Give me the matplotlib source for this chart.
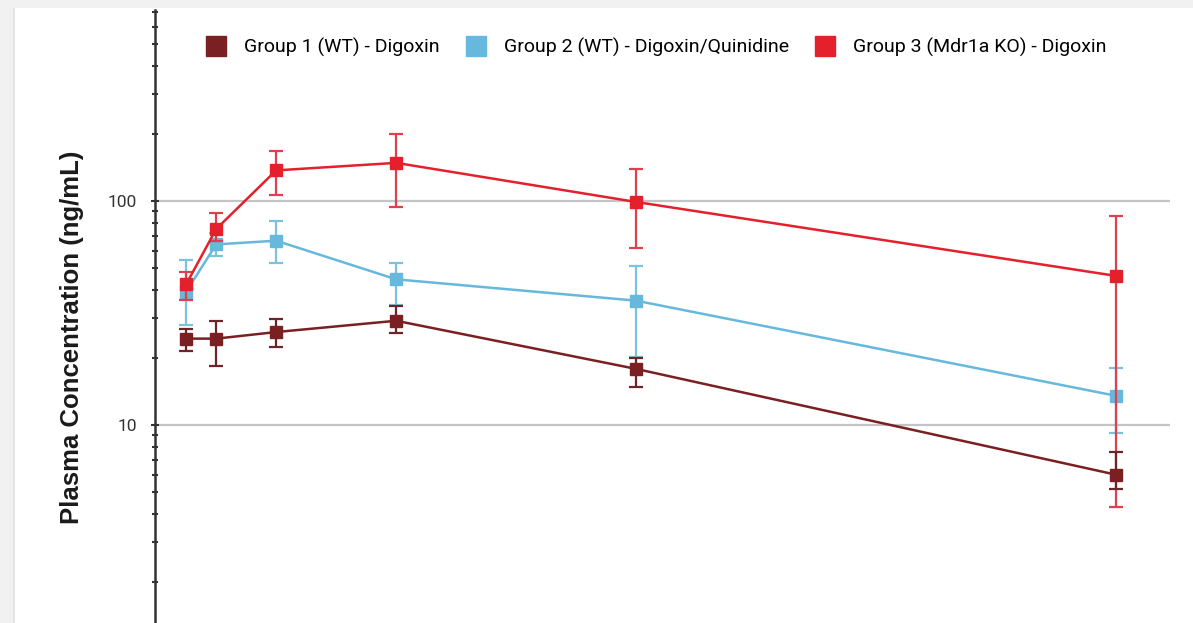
import matplotlib
matplotlib.use("Agg")
import numpy as np
import matplotlib.pyplot as plt
from matplotlib.lines import Line2D
from matplotlib.patches import Rectangle
from matplotlib.ticker import LogLocator, NullFormatter

# sampling times (h)
time = [0.25, 0.5, 1, 2, 4, 8]

# group 1 (WT) - digoxin
g1_mean = [24.3, 24.3, 26.0, 29.2, 17.8, 6.0]
g1_low  = [21.5, 18.3, 22.3, 25.8, 14.8, 5.2]
g1_high = [26.8, 29.2, 29.8, 34.0, 20.0, 7.6]

# group 2 (WT) - digoxin/quinidine
g2_mean = [39.4, 64.0, 66.5, 44.7, 35.9, 13.5]
g2_low  = [27.9, 56.9, 52.8, 34.3, 20.2, 9.2]
g2_high = [54.6, 72.0, 81.5, 53.0, 51.3, 17.9]

# group 3 (Mdr1a KO) - digoxin
g3_mean = [42.5, 75.0, 137.0, 148.0, 99.0, 46.3]
g3_low  = [36.0, 66.0, 106.0, 94.0, 61.8, 4.3]
g3_high = [48.3, 88.6, 167.0, 199.0, 139.0, 86.0]

labels = ['Group 1 (WT) - Digoxin', 'Group 2 (WT) - Digoxin/Quinidine',
          'Group 3 (Mdr1a KO) - Digoxin']
colors = ['#7a1f22', '#66b8dc', '#e3202b']
ecolors = ['#6b2428', '#7cc2df', '#e0404e']

W, H = 1193, 623
fig = plt.figure(figsize=(W / 100, H / 100), dpi=100, facecolor='#f1f1f1')
# white card inside the grey screenshot frame
fig.patches.append(Rectangle((15 / W, 0), 1 - 15 / W, 1 - 8 / H, transform=fig.transFigure,
                             facecolor='white', edgecolor='none', zorder=-2))
fig.patches.append(Rectangle((13 / W, 0), 2 / W, 1 - 8 / H, transform=fig.transFigure,
                             facecolor='#e4e4e4', edgecolor='none', zorder=-2))

ax = fig.add_axes([155 / W, 0.0, (1170 - 155) / W, 1 - 10 / H])
ax.set_facecolor('none')

series = [(g1_mean, g1_low, g1_high), (g2_mean, g2_low, g2_high), (g3_mean, g3_low, g3_high)]
zorders = [5, 3, 4]
for (m, lo, hi), c, ec, z in zip(series, colors, ecolors, zorders):
    m = np.array(m); lo = np.array(lo); hi = np.array(hi)
    ax.errorbar(time, m, yerr=[m - lo, hi - m], color=c, ecolor=ec, lw=1.8, elinewidth=1.6,
                capsize=5, capthick=1.6, marker='s', markersize=8, zorder=z)

ax.set_yscale('log')
ax.set_xlim(-0.01, 8.45)
ax.set_ylim(10 ** (1 - 198 / 224), 10 ** (2 + 191 / 224))

# gridlines at the decades only
for v in [10, 100]:
    ax.axhline(v, color='#c4c4c4', lw=1.6, zorder=1)

ax.set_yticks([10, 100])
ax.set_yticklabels(['10', '100'])
ax.yaxis.set_minor_locator(LogLocator(base=10, subs=np.arange(2, 10)))
ax.yaxis.set_minor_formatter(NullFormatter())
ax.tick_params(axis='y', which='major', direction='inout', length=6, width=1.5, color='#333333',
               pad=10, labelsize=12.5, labelcolor='#333333')
ax.tick_params(axis='y', which='minor', direction='inout', length=4, width=1.5, color='#333333')
for lab in ax.get_yticklabels():
    lab.set_family(['Roboto', 'DejaVu Sans'])
ax.set_xticks([])

for s in ['top', 'right', 'bottom']:
    ax.spines[s].set_visible(False)
ax.spines['left'].set_color('#333333')
ax.spines['left'].set_linewidth(1.8)

fig.text(72 / W, 1 - 337 / H, 'Plasma Concentration (ng/mL)', rotation=90, ha='center', va='center',
         fontsize=18.5, fontweight='bold', color='#1a1a1a', family=['Liberation Sans', 'DejaVu Sans'])

handles = [Line2D([], [], ls='none', marker='s', markersize=14, color=c) for c in colors]
fig.legend(handles, labels, ncol=3, loc='center left', bbox_to_anchor=(206 / W, 1 - 47 / H),
           frameon=False, borderpad=0, borderaxespad=0, handlelength=1.0, handletextpad=0.95,
           columnspacing=1.35, prop={'family': ['Roboto', 'DejaVu Sans'], 'size': 14})

fig.savefig('out.png', dpi=100, facecolor=fig.get_facecolor())
